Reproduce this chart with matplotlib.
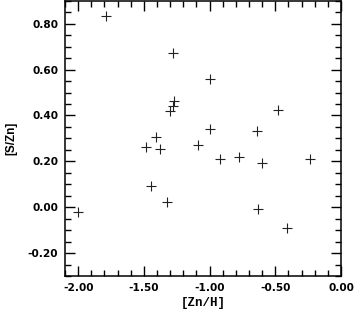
import numpy as np
import matplotlib
matplotlib.use("Agg")
import matplotlib.pyplot as plt
from matplotlib.ticker import MultipleLocator, FormatStrFormatter

# [Zn/H] vs [S/Zn]
zn_h = [-1.79, -1.28, -0.995, -1.27, -1.28, -1.30, -0.48, -1.41, -1.48, -1.38,
        -0.995, -0.636, -1.087, -0.917, -0.777, -0.605, -0.238, -0.631, -0.41,
        -2.004, -1.446, -1.327]
s_zn = [0.835, 0.672, 0.561, 0.464, 0.44, 0.42, 0.425, 0.304, 0.263, 0.252,
        0.342, 0.332, 0.272, 0.211, 0.221, 0.192, 0.211, -0.010, -0.090,
        -0.019, 0.093, 0.022]

fig = plt.figure(figsize=(3.59, 3.11), dpi=100)
ax = fig.add_axes([0.181, 0.1125, 0.769, 0.885])

ax.plot(zn_h, s_zn, '+', color='#222222', markersize=7, markeredgewidth=0.8)

ax.set_xlim(-2.1, 0.0)
ax.set_ylim(-0.3, 0.9)
ax.xaxis.set_major_locator(MultipleLocator(0.5))
ax.xaxis.set_minor_locator(MultipleLocator(0.1))
ax.yaxis.set_major_locator(MultipleLocator(0.2))
ax.yaxis.set_minor_locator(MultipleLocator(0.05))
ax.xaxis.set_major_formatter(FormatStrFormatter('%.2f'))
ax.yaxis.set_major_formatter(FormatStrFormatter('%.2f'))

ax.tick_params(which='both', direction='in', top=True, right=True, width=1, colors='black')
ax.tick_params(which='major', length=7, pad=5)
ax.tick_params(which='minor', length=4)
for lab in ax.get_xticklabels() + ax.get_yticklabels():
    lab.set_family('DejaVu Sans')
    lab.set_fontweight('bold')
    lab.set_fontsize(7.6)
for sp in ax.spines.values():
    sp.set_linewidth(1.1)

ax.set_xlabel('[Zn/H]', family='Liberation Mono', fontweight='bold', fontsize=9, labelpad=3)
ax.set_ylabel('[S/Zn]', family='Liberation Sans', fontweight='bold', fontsize=8.5, labelpad=7)

fig.savefig("out.png", dpi=100)
